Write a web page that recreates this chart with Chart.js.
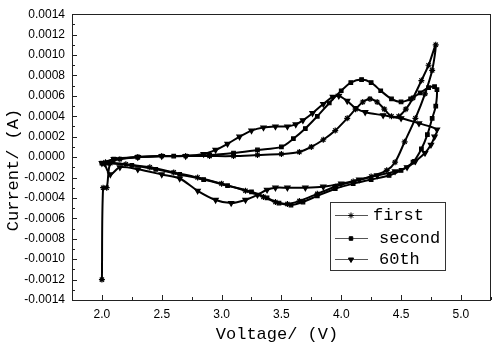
<!DOCTYPE html>
<html>
<head>
<meta charset="utf-8">
<script src="https://cdn.jsdelivr.net/npm/chart.js@4.4.0/dist/chart.umd.min.js"></script>
<style>
  html, body { margin: 0; padding: 0; background: #fff; }
  #wrap { width: 496px; height: 344px; }
</style>
</head>
<body>
<div id="wrap"><canvas id="cv"></canvas></div>
<script>
// cycle 1 (stars): initial spike, anodic sweep, cathodic sweep
const firstV = [2.00, 2.01, 2.04, 2.07, 2.15, 2.30, 2.50, 2.70, 2.90, 3.10, 3.30, 3.50, 3.65, 3.75, 3.85, 3.95, 4.05, 4.12, 4.18, 4.24, 4.30, 4.36, 4.42, 4.48, 4.54, 4.60, 4.67, 4.73, 4.79,
                4.76, 4.70, 4.62, 4.53, 4.45, 4.38, 4.25, 4.10, 3.95, 3.80, 3.65, 3.55, 3.45, 3.35, 3.20, 3.00, 2.80, 2.60, 2.40, 2.20, 2.03];
const firstI = [-0.0012, -0.0003, -0.0003, -0.00006, -0.00002, 0.0, 0.00001, 0.00001, 0.00001, 0.00001, 0.00002, 0.00003, 0.00005, 0.0001, 0.00017, 0.00026, 0.00038, 0.00047, 0.00054, 0.00057, 0.00054, 0.00047, 0.0004, 0.0004, 0.00047, 0.00058, 0.00075, 0.0009, 0.0011,
                0.00085, 0.00062, 0.00038, 0.00015, -0.00005, -0.00013, -0.00019, -0.00024, -0.00029, -0.00036, -0.00043, -0.00046, -0.00044, -0.00039, -0.00033, -0.00026, -0.0002, -0.00015, -0.0001, -0.00007, -0.00005];

// cycle 2 (squares)
const secondV = [2.00, 2.10, 2.30, 2.60, 2.90, 3.10, 3.30, 3.50, 3.60, 3.70, 3.80, 3.90, 4.00, 4.08, 4.17, 4.25, 4.33, 4.42, 4.50, 4.58, 4.66, 4.73, 4.78, 4.80,
                 4.79, 4.76, 4.72, 4.67, 4.60, 4.50, 4.40, 4.25, 4.10, 3.95, 3.80, 3.68, 3.58, 3.48, 3.38, 3.25, 3.05, 2.85, 2.65, 2.45, 2.25, 2.05];
const secondI = [-0.00006, -0.00002, 0.0, 0.00001, 0.00002, 0.00004, 0.00007, 0.0001, 0.00018, 0.00028, 0.0004, 0.00053, 0.00065, 0.00073, 0.00076, 0.00073, 0.00065, 0.00057, 0.00054, 0.00057, 0.00063, 0.00068, 0.00069, 0.00066,
                 0.0005, 0.00038, 0.00022, 0.00008, -0.00005, -0.00013, -0.00018, -0.00022, -0.00026, -0.00031, -0.00038, -0.00044, -0.00047, -0.00045, -0.0004, -0.00034, -0.00028, -0.00022, -0.00017, -0.00012, -0.00008, -0.00006];

// cycle 60 (triangles)
const sixtiethV = [2.00, 2.10, 2.30, 2.50, 2.70, 2.85, 2.95, 3.05, 3.15, 3.25, 3.35, 3.45, 3.55, 3.62, 3.68, 3.76, 3.85, 3.93, 3.98, 4.05, 4.12, 4.20, 4.35, 4.50, 4.65, 4.80,
                   4.78, 4.75, 4.70, 4.62, 4.55, 4.45, 4.30, 4.15, 4.00, 3.85, 3.70, 3.55, 3.45, 3.38, 3.30, 3.20, 3.08, 2.95, 2.80, 2.65, 2.50, 2.30, 2.15, 2.07, 2.02];
const sixtiethI = [-0.00006, -0.00002, 0.0, 0.00001, 0.00001, 0.00003, 0.00007, 0.00013, 0.0002, 0.00026, 0.00029, 0.0003, 0.0003, 0.00032, 0.00036, 0.00043, 0.00052, 0.00059, 0.0006, 0.00055, 0.00048, 0.00044, 0.00041, 0.00038, 0.00033, 0.00027,
                   0.0002, 0.00012, 0.00004, -0.00004, -0.0001, -0.00014, -0.00018, -0.00022, -0.00026, -0.00029, -0.0003, -0.0003, -0.0003, -0.00032, -0.00037, -0.00042, -0.00045, -0.00042, -0.00033, -0.00021, -0.00017, -0.00012, -0.0001, -0.00017, -0.00006];

const seriesNames = ['first', 'second', '60th'];
const xTicks = [2.0, 2.5, 3.0, 3.5, 4.0, 4.5, 5.0];
const yTicks = [-0.0014, -0.0012, -0.0010, -0.0008, -0.0006, -0.0004, -0.0002, 0.0, 0.0002, 0.0004, 0.0006, 0.0008, 0.0010, 0.0012, 0.0014];

function toPoints(xs, ys) {
    return xs.map((v, i) => ({ x: v, y: ys[i] }));
}

const markers = [
    { pointStyle: 'star', radius: 3, rotation: 0 },
    { pointStyle: 'rect', radius: 2.5, rotation: 0 },
    { pointStyle: 'triangle', radius: 3, rotation: 180 }
];

// inside ticks, frame, axis titles and the boxed legend
const framePlugin = {
    id: 'frame',
    afterDraw(chart) {
        const ctx = chart.ctx;
        const area = chart.chartArea;
        const xs = chart.scales.x;
        const ys = chart.scales.y;
        ctx.save();
        ctx.strokeStyle = '#222';
        ctx.lineWidth = 1;
        ctx.strokeRect(Math.round(area.left) + 0.5, Math.round(area.top) + 0.5,
            Math.round(area.right - area.left) - 1, Math.round(area.bottom - area.top));

        ctx.beginPath();
        yTicks.forEach((v, i) => {
            const py = Math.round(ys.getPixelForValue(v)) + 0.5;
            ctx.moveTo(area.left, py);
            ctx.lineTo(area.left + 5, py);
            if (i < yTicks.length - 1) {
                const my = Math.round(ys.getPixelForValue((v + yTicks[i + 1]) / 2)) + 0.5;
                ctx.moveTo(area.left, my);
                ctx.lineTo(area.left + 3, my);
            }
        });
        xTicks.forEach((v, i) => {
            const px = Math.round(xs.getPixelForValue(v)) + 0.5;
            ctx.moveTo(px, area.bottom);
            ctx.lineTo(px, area.bottom - 5);
            const mx = Math.round(xs.getPixelForValue(v + 0.25)) + 0.5;
            ctx.moveTo(mx, area.bottom);
            ctx.lineTo(mx, area.bottom - 3);
        });
        ctx.stroke();

        ctx.fillStyle = '#000';
        ctx.font = '17px "Liberation Mono", monospace';
        ctx.textAlign = 'center';
        ctx.textBaseline = 'middle';
        ctx.fillText('Voltage/ (V)', 277, 334);
        ctx.save();
        ctx.translate(13, 170);
        ctx.rotate(-Math.PI / 2);
        ctx.fillText('Current/ (A)', 0, 0);
        ctx.restore();

        // legend
        ctx.strokeStyle = '#333';
        ctx.strokeRect(330.5, 202.5, 115, 68);
        const rowY = [215, 238, 259];
        const textX = [373, 379, 379];
        ctx.textAlign = 'left';
        seriesNames.forEach((name, i) => {
            ctx.strokeStyle = '#555';
            ctx.lineWidth = 1;
            ctx.beginPath();
            ctx.moveTo(335, rowY[i] + 0.5);
            ctx.lineTo(368, rowY[i] + 0.5);
            ctx.stroke();
            ctx.strokeStyle = '#000';
            ctx.fillStyle = '#000';
            Chart.helpers.drawPoint(ctx, {
                pointStyle: markers[i].pointStyle,
                radius: markers[i].radius,
                rotation: markers[i].rotation,
                borderWidth: 1
            }, 351, rowY[i] + 0.5);
            ctx.fillText(name, textX[i], rowY[i]);
        });
        ctx.restore();
    }
};

function makeSet(label, xs, ys, m) {
    return {
        label: label,
        data: toPoints(xs, ys),
        showLine: true,
        borderColor: '#000',
        backgroundColor: '#000',
        borderWidth: 2,
        pointStyle: m.pointStyle,
        pointRadius: m.radius,
        pointRotation: m.rotation,
        pointBorderWidth: 1.2,
        tension: 0.3
    };
}

new Chart(document.getElementById('cv'), {
    type: 'scatter',
    data: {
        datasets: [
            makeSet(seriesNames[0], firstV, firstI, markers[0]),
            makeSet(seriesNames[1], secondV, secondI, markers[1]),
            makeSet(seriesNames[2], sixtiethV, sixtiethI, markers[2])
        ]
    },
    options: {
        responsive: true,
        maintainAspectRatio: false,
        animation: false,
        layout: { padding: { top: 11, right: 3, left: 0, bottom: 0 } },
        plugins: {
            legend: { display: false },
            tooltip: { enabled: false }
        },
        scales: {
            x: {
                type: 'linear',
                min: 1.75,
                max: 5.25,
                afterBuildTicks: (scale) => { scale.ticks = xTicks.map(v => ({ value: v })); },
                afterFit: (scale) => { scale.height = 44; },
                grid: { display: false, drawTicks: false },
                border: { display: false },
                ticks: {
                    padding: 7,
                    color: '#000',
                    font: { family: '"Liberation Sans", Arial', size: 12 },
                    callback: (v) => Number(v).toFixed(1)
                }
            },
            y: {
                type: 'linear',
                min: -0.0014,
                max: 0.0014,
                afterBuildTicks: (scale) => { scale.ticks = yTicks.map(v => ({ value: v })); },
                afterFit: (scale) => { scale.width = 72; },
                grid: { display: false, drawTicks: false },
                border: { display: false },
                ticks: {
                    padding: 7,
                    color: '#000',
                    font: { family: '"Liberation Sans", Arial', size: 12 },
                    callback: (v) => Number(v).toFixed(4)
                }
            }
        }
    },
    plugins: [framePlugin]
});
</script>
</body>
</html>
